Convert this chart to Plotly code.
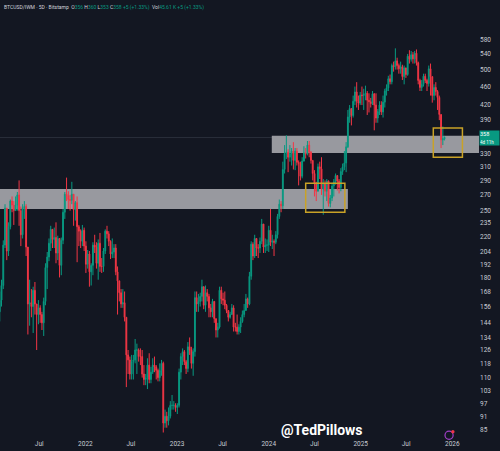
import plotly.graph_objects as go
import pandas as pd
import math

# ---- data: BTCUSD/IWM ratio, 5D candles (weekly) ----
start_date = "2021-01-25"
first_open = 152
close = [
    161,173,211,253,205,231,262,257,250,257,
    270,250,222,253,255,209,158,159,156,169,
    158,150,155,150,144,160,189,199,213,228,
    217,219,203,218,191,216,248,271,269,264,
    263,271,251,260,231,226,215,227,210,192,
    202,185,191,211,209,193,213,190,190,205,
    226,223,215,202,204,208,185,177,167,158,
    159,148,123,120,112,119,120,126,126,122,
    122,112,109,110,117,109,113,117,116,114,
    110,114,118,88,91,89,91,96,96,96,
    95,96,113,122,125,119,115,128,126,118,
    125,163,158,160,164,172,157,167,164,155,
    152,160,147,139,141,169,162,161,157,153,
    148,150,155,141,141,138,141,145,150,153,
    162,158,181,212,200,218,208,208,215,234,
    209,211,211,227,214,215,214,222,243,258,
    256,306,331,333,325,331,335,320,335,317,
    315,296,319,332,330,345,333,320,300,285,
    275,310,307,278,285,275,289,259,266,282,
    288,297,289,280,303,310,316,342,396,413,
    399,428,448,428,424,441,440,443,445,430,
    427,423,444,420,394,407,420,406,426,450,
    457,478,471,510,507,522,510,502,507,483,
    504,488,534,526,538,527,542,517,474,458,
    465,484,474,467,502,483,440,458,449,436,
    401,354,356,358,
]
high = [
    168,178,216,258,245,236,264,268,262,268,
    274,290,255,258,262,258,205,178,170,172,
    176,158,161,157,152,163,193,204,218,232,
    228,230,236,221,214,219,252,274,294,275,
    270,288,270,262,268,233,228,233,230,215,
    206,205,193,214,222,214,217,224,198,208,
    228,232,226,216,218,212,212,190,175,170,
    170,168,148,126,122,123,123,133,130,127,
    127,126,117,112,121,124,116,121,122,117,
    115,118,120,119,94,93,95,98,101,98,
    97,97,115,124,127,126,120,131,134,128,
    127,168,168,166,167,178,172,173,170,166,
    158,162,160,146,144,172,172,167,168,158,
    153,152,158,157,144,150,143,148,153,158,
    166,163,185,215,214,222,218,212,219,240,
    234,218,217,232,252,222,217,226,246,264,
    262,318,345,362,338,345,340,350,340,340,
    320,318,325,343,340,352,352,335,320,305,
    288,315,318,325,292,290,292,290,270,285,
    292,300,297,292,308,315,335,350,410,420,
    412,440,460,470,440,448,460,455,462,450,
    445,435,450,445,445,412,428,428,440,455,
    465,485,488,515,520,555,530,515,520,512,
    510,505,540,550,548,545,548,552,520,478,
    475,490,490,478,510,515,470,465,470,452,
    440,400,378,360,
]
low = [
    145,156,170,208,196,200,228,248,233,250,
    250,232,210,218,240,200,136,142,148,137,
    150,126,143,144,139,135,157,170,195,205,
    208,208,193,196,180,182,212,240,262,252,
    250,258,232,238,194,210,208,210,205,184,
    188,172,173,182,203,188,178,185,184,185,
    202,218,210,197,198,198,182,150,160,155,
    155,145,105,112,109,109,109,118,112,119,
    117,110,106,106,104,107,107,112,113,109,
    108,108,111,84,86,86,87,90,94,94,
    93,92,95,109,117,117,112,113,123,115,
    111,122,152,152,156,160,154,152,160,148,
    148,148,144,134,134,140,158,157,154,151,
    145,147,150,138,138,136,136,137,144,148,
    155,155,157,178,196,198,200,198,203,212,
    203,203,205,204,210,207,200,212,218,240,
    248,252,300,322,302,318,312,306,305,312,
    283,290,293,318,323,328,325,315,290,268,
    262,275,292,270,245,268,262,255,254,262,
    268,284,276,272,275,298,305,302,340,385,
    380,395,420,415,410,420,420,410,430,400,
    405,415,420,371,385,385,400,400,395,415,
    440,450,465,465,495,500,500,490,490,475,
    465,480,485,515,520,515,515,510,465,450,
    450,460,468,450,460,440,425,430,440,410,
    390,340,345,353,
]
x_tick_dates = ["2021-07-01", "2022-01-01", "2022-07-01", "2023-01-01", "2023-07-01",
                "2024-01-01", "2024-07-01", "2025-01-01", "2025-07-01", "2026-01-01"]
x_tick_text = ["Jul", "2022", "Jul", "2023", "Jul", "2024", "Jul", "2025", "Jul", "2026"]
y_ticks = [580, 540, 500, 460, 420, 390, 330, 310, 290, 270, 250, 235, 220, 204, 192,
           180, 168, 156, 144, 134, 126, 118, 110, 103, 97, 91, 85]
last_price = 358

# zones drawn on the chart (price levels)
zone_low = (252, 278)
zone_high = (332, 361)

dates = pd.date_range(start_date, periods=len(close), freq="7D")
opens = [first_open] + close[:-1]
highs = [max(h, o, c) for h, o, c in zip(high, opens, close)]
lows = [min(l, o, c) for l, o, c in zip(low, opens, close)]

BG = "#131722"
UP = "#089981"
DOWN = "#f23645"

fig = go.Figure(go.Candlestick(
    x=dates, open=opens, high=highs, low=lows, close=close,
    increasing=dict(line=dict(color=UP, width=1), fillcolor=UP),
    decreasing=dict(line=dict(color=DOWN, width=1), fillcolor=DOWN),
    whiskerwidth=0, hoverinfo="skip", showlegend=False,
))

x_start, x_end = "2021-01-26", "2026-04-17"
band_col = "rgb(152,153,159)"
gold = "#c9a227"
shapes = [
    dict(type="line", xref="paper", yref="y", x0=0, x1=1, y0=last_price, y1=last_price,
         line=dict(color="#2a2f3b", width=1), layer="below"),
    dict(type="rect", xref="x", yref="y", x0=x_start, x1="2024-11-11",
         y0=zone_low[0], y1=zone_low[1], fillcolor=band_col, line=dict(width=0), layer="below"),
    dict(type="rect", xref="x", yref="y", x0="2024-01-13", x1=x_end,
         y0=zone_high[0], y1=zone_high[1], fillcolor=band_col, line=dict(width=0), layer="below"),
    dict(type="rect", xref="x", yref="y", x0="2024-05-27", x1="2024-10-30",
         y0=248, y1=286, fillcolor="rgba(0,0,0,0)", line=dict(color=gold, width=1.5)),
    dict(type="rect", xref="x", yref="y", x0="2025-10-17", x1="2026-02-10",
         y0=325, y1=375, fillcolor="rgba(0,0,0,0)", line=dict(color=gold, width=1.5)),
    # small logo near the bottom right
    dict(type="circle", xref="paper", yref="paper", x0=0.929, x1=0.946, y0=-0.003, y1=0.0155,
         line=dict(color="#a23fc9", width=1.2), fillcolor="rgba(0,0,0,0)"),
    dict(type="circle", xref="paper", yref="paper", x0=0.942, x1=0.949, y0=0.010, y1=0.018,
         line=dict(width=0), fillcolor="#f23645"),
]

hdr = ("<span style='color:#d1d4dc'>BTCUSD/IWM · 5D · Bitstamp</span>  "
       "<span style='color:#d1d4dc'>O</span><span style='color:#089981'>356</span> "
       "<span style='color:#d1d4dc'>H</span><span style='color:#089981'>360</span> "
       "<span style='color:#d1d4dc'>L</span><span style='color:#089981'>353</span> "
       "<span style='color:#d1d4dc'>C</span><span style='color:#089981'>358</span> "
       "<span style='color:#089981'>+5 (+1.33%)</span>  "
       "<span style='color:#d1d4dc'>Vol</span><span style='color:#089981'>45.61 K</span> "
       "<span style='color:#089981'>+5 (+1.33%)</span>")

annotations = [
    dict(text=hdr, xref="paper", yref="paper", x=0.004, y=1, xanchor="left", yanchor="top",
         yshift=-2, showarrow=False, font=dict(family="Roboto", size=5, color="#d1d4dc")),
    dict(text="@TedPillows", xref="paper", yref="paper", x=0.672, y=0.019,
         xanchor="center", yanchor="middle", showarrow=False,
         font=dict(family="Roboto", size=14, color="#ffffff", weight="bold")),
    dict(text=f"{last_price}<br><span style='font-size:4.5px'>4d 11h</span>", xref="paper", yref="y",
         x=1, y=math.log10(last_price), xanchor="left", yanchor="middle", showarrow=False,
         bgcolor=UP, width=19, height=14, align="left", borderpad=0,
         font=dict(family="Roboto", size=5.5, color="#ffffff")),
]

fig.update_layout(
    width=500, height=451,
    margin=dict(l=0, r=21, t=0, b=13),
    paper_bgcolor=BG, plot_bgcolor=BG,
    shapes=shapes, annotations=annotations,
    xaxis=dict(type="date", range=[x_start, x_end], rangeslider=dict(visible=False),
               showgrid=False, zeroline=False, showline=False, ticks="",
               tickvals=x_tick_dates, ticktext=x_tick_text,
               tickfont=dict(family="Roboto", size=6.5, color="#c8cbd3")),
    yaxis=dict(type="log", side="right", range=[math.log10(81.76), math.log10(703.9)],
               showgrid=False, zeroline=False, showline=False, ticks="",
               tickvals=y_ticks, ticktext=[str(v) for v in y_ticks],
               tickfont=dict(family="Roboto", size=6.5, color="#c8cbd3")),
    hovermode=False,
)

fig.write_html("out.html", config={"displayModeBar": False})
